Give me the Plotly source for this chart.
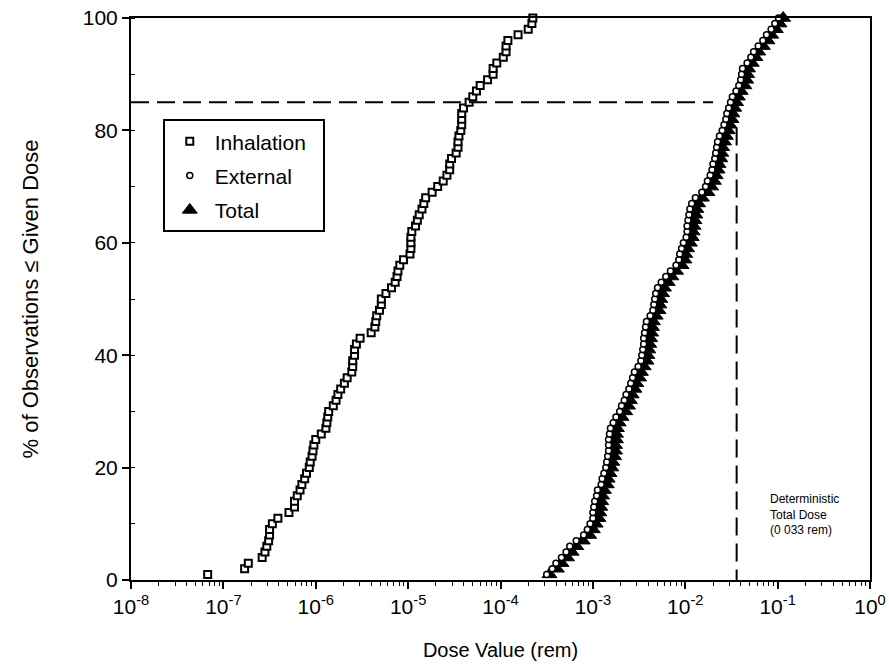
import plotly.graph_objects as go

# Percent of observations (cumulative)
percent = list(range(1, 101))

# log10 of dose (rem) at each cumulative percent
inhalation_log = [
    -7.17, -6.77, -6.73, -6.58, -6.55, -6.53, -6.51, -6.50, -6.50, -6.47,
    -6.41, -6.29, -6.23, -6.23, -6.20, -6.17, -6.15, -6.12, -6.10, -6.07,
    -6.06, -6.04, -6.03, -6.02, -6.00, -5.94, -5.89, -5.88, -5.87, -5.86,
    -5.81, -5.78, -5.76, -5.73, -5.69, -5.66, -5.61, -5.60, -5.60, -5.58,
    -5.58, -5.56, -5.52, -5.40, -5.36, -5.35, -5.34, -5.31, -5.29, -5.29,
    -5.24, -5.18, -5.14, -5.12, -5.11, -5.09, -5.05, -4.98, -4.97, -4.97,
    -4.97, -4.96, -4.92, -4.90, -4.88, -4.85, -4.83, -4.81, -4.74, -4.68,
    -4.62, -4.58, -4.55, -4.55, -4.53, -4.48, -4.46, -4.46, -4.45, -4.43,
    -4.42, -4.42, -4.42, -4.40, -4.34, -4.30, -4.26, -4.22, -4.14, -4.08,
    -4.08, -4.04, -3.97, -3.94, -3.94, -3.92, -3.81, -3.70, -3.66, -3.65,
]
external_log = [
    -3.50, -3.44, -3.40, -3.34, -3.29, -3.25, -3.18, -3.10, -3.06, -3.03,
    -3.00, -3.00, -2.99, -2.98, -2.96, -2.95, -2.91, -2.90, -2.88, -2.86,
    -2.85, -2.84, -2.83, -2.83, -2.83, -2.82, -2.81, -2.78, -2.75, -2.71,
    -2.69, -2.66, -2.64, -2.61, -2.59, -2.57, -2.55, -2.51, -2.48, -2.47,
    -2.46, -2.45, -2.45, -2.44, -2.43, -2.42, -2.38, -2.35, -2.34, -2.33,
    -2.32, -2.30, -2.26, -2.21, -2.16, -2.10, -2.07, -2.06, -2.04, -2.02,
    -1.99, -1.98, -1.98, -1.97, -1.96, -1.95, -1.93, -1.89, -1.82, -1.78,
    -1.76, -1.73, -1.71, -1.70, -1.68, -1.67, -1.66, -1.65, -1.63, -1.60,
    -1.58, -1.56, -1.55, -1.53, -1.51, -1.49, -1.45, -1.42, -1.40, -1.39,
    -1.38, -1.33, -1.29, -1.26, -1.21, -1.16, -1.12, -1.07, -1.03, -0.99,
]
total_log = [
    -3.47, -3.39, -3.34, -3.28, -3.23, -3.18, -3.11, -3.04, -3.00, -2.97,
    -2.94, -2.93, -2.92, -2.91, -2.90, -2.88, -2.85, -2.84, -2.82, -2.80,
    -2.79, -2.77, -2.76, -2.76, -2.75, -2.75, -2.74, -2.72, -2.69, -2.65,
    -2.62, -2.60, -2.58, -2.55, -2.53, -2.50, -2.48, -2.45, -2.42, -2.41,
    -2.40, -2.39, -2.38, -2.37, -2.36, -2.35, -2.32, -2.29, -2.28, -2.27,
    -2.25, -2.23, -2.19, -2.15, -2.10, -2.04, -2.01, -2.00, -1.98, -1.95,
    -1.93, -1.92, -1.91, -1.90, -1.89, -1.88, -1.86, -1.82, -1.76, -1.72,
    -1.69, -1.67, -1.65, -1.64, -1.62, -1.61, -1.60, -1.58, -1.56, -1.54,
    -1.52, -1.50, -1.49, -1.47, -1.45, -1.43, -1.40, -1.36, -1.34, -1.33,
    -1.32, -1.28, -1.24, -1.21, -1.16, -1.11, -1.07, -1.02, -0.98, -0.94,
]

inhalation = [10 ** v for v in inhalation_log]
external = [10 ** v for v in external_log]
total = [10 ** v for v in total_log]

x_tick_vals = [1e-8, 1e-7, 1e-6, 1e-5, 1e-4, 1e-3, 1e-2, 1e-1, 1e0]
x_tick_text = ["10<sup>-8</sup>", "10<sup>-7</sup>", "10<sup>-6</sup>", "10<sup>-5</sup>",
               "10<sup>-4</sup>", "10<sup>-3</sup>", "10<sup>-2</sup>", "10<sup>-1</sup>",
               "10<sup>0</sup>"]
y_tick_vals = [0, 20, 40, 60, 80, 100]

percentile_level = 85
percentile_dose_end = 0.02
deterministic_dose = 0.036
deterministic_top = 80.5
note_log_x = -1.1
note_y = 11.6

FONT = "Liberation Sans, Arial, Helvetica, sans-serif"
NB = "\u00a0"

fig = go.Figure()

fig.add_trace(go.Scatter(
    x=inhalation, y=percent, mode="markers", name="Inhalation" + NB * 2,
    legendgroup="a", legendrank=1, cliponaxis=False,
    marker=dict(symbol="square", size=7, color="white",
                line=dict(color="black", width=2)),
))
fig.add_trace(go.Scatter(
    x=total, y=percent, mode="markers", name="Total",
    legendgroup="c", legendrank=3, cliponaxis=False,
    marker=dict(symbol="triangle-up", size=13, color="black",
                line=dict(color="black", width=1)),
))
fig.add_trace(go.Scatter(
    x=external, y=percent, mode="markers", name="External",
    legendgroup="b", legendrank=2, cliponaxis=False,
    marker=dict(symbol="circle", size=6, color="white",
                line=dict(color="black", width=1.5)),
))

# reference lines
fig.add_trace(go.Scatter(
    x=[1e-8, percentile_dose_end], y=[percentile_level, percentile_level],
    mode="lines", showlegend=False, hoverinfo="skip",
    line=dict(color="black", width=2, dash="18px,8px"),
))
fig.add_trace(go.Scatter(
    x=[deterministic_dose, deterministic_dose], y=[deterministic_top, 0],
    mode="lines", showlegend=False, hoverinfo="skip",
    line=dict(color="black", width=2, dash="18px,8px"),
))

fig.add_annotation(
    x=note_log_x, xref="x", y=note_y, yref="y", xanchor="left", yanchor="middle",
    text="Deterministic<br>Total Dose<br>(0 033 rem)", showarrow=False, align="left",
    font=dict(family=FONT, size=12, color="black"),
)

fig.update_xaxes(
    type="log", range=[-8, 0], tickvals=x_tick_vals, ticktext=x_tick_text,
    ticks="outside", ticklen=7, tickwidth=2, tickcolor="black",
    minor=dict(dtick="D1", ticks="outside", ticklen=4, tickwidth=1, tickcolor="black", showgrid=False),
    showline=True, linecolor="black", linewidth=2, mirror=True,
    showgrid=False, zeroline=False, automargin=False,
    tickfont=dict(family=FONT, size=21, color="black"),
    title=dict(text="Dose Value (rem)", font=dict(family=FONT, size=20, color="black"), standoff=26),
)
fig.update_yaxes(
    range=[0, 100], tickvals=y_tick_vals,
    ticks="outside", ticklen=7, tickwidth=2, tickcolor="black",
    minor=dict(dtick=10, ticks="inside", ticklen=4, tickwidth=1, tickcolor="black", showgrid=False),
    showline=True, linecolor="black", linewidth=2, mirror=True,
    showgrid=False, zeroline=False, automargin=False,
    tickfont=dict(family=FONT, size=21, color="black"),
    title=dict(text="% of Observations ≤ Given Dose", font=dict(family=FONT, size=22, color="black"), standoff=38),
)

fig.update_layout(
    width=889, height=666,
    margin=dict(l=131, r=19, t=18, b=86),
    paper_bgcolor="white", plot_bgcolor="white",
    font=dict(family=FONT, color="black"),
    legend=dict(
        x=0.043, y=0.82, xanchor="left", yanchor="top",
        bordercolor="black", borderwidth=2, bgcolor="white",
        font=dict(family=FONT, size=21, color="black"),
        tracegroupgap=4, itemwidth=40,
    ),
)

fig.write_html("out.html")
